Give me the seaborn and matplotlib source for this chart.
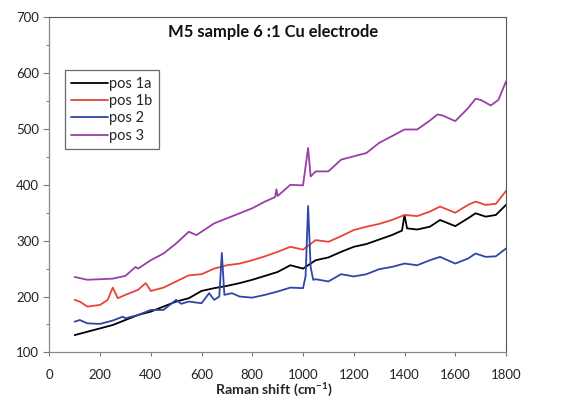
import numpy as np
import pandas as pd
import matplotlib
matplotlib.use("Agg")
import matplotlib.pyplot as plt
from matplotlib.ticker import MultipleLocator
import seaborn as sns

# Raman spectra, M5 sample 6:1 on Cu electrode (shift in cm-1, intensity)
pos1a_x = [100, 150, 200, 250, 300, 350, 400, 450, 500, 550, 600, 650, 700, 750,
           800, 850, 900, 950, 1000, 1050, 1100, 1150, 1200, 1250, 1300, 1350,
           1390, 1400, 1410, 1450, 1500, 1540, 1600, 1650, 1680, 1720, 1760, 1800]
pos1a_y = [131, 137, 143, 149, 158, 167, 173, 182, 191, 197, 210, 215, 219, 224,
           230, 237, 244, 256, 250, 265, 270, 280, 289, 294, 302, 310,
           318, 346, 322, 320, 325, 337, 326, 340, 349, 343, 346, 364]

pos1b_x = [100, 120, 150, 200, 230, 250, 270, 300, 350, 380, 400, 450, 500, 550,
           600, 650, 700, 750, 800, 850, 900, 950, 1000, 1050, 1100, 1150, 1200,
           1250, 1300, 1350, 1400, 1450, 1500, 1540, 1600, 1650, 1680, 1720, 1760, 1800]
pos1b_y = [194, 191, 182, 185, 194, 216, 197, 203, 212, 224, 210, 216, 227, 238,
           240, 250, 256, 259, 265, 272, 280, 289, 284, 301, 298, 308, 319,
           325, 330, 337, 346, 344, 352, 361, 350, 364, 370, 364, 366, 389]

pos2_x = [100, 120, 150, 200, 250, 290, 300, 350, 400, 450, 500, 520, 550, 600,
          630, 650, 670, 680, 690, 720, 750, 800, 850, 900, 950, 1000, 1010, 1020,
          1030, 1040, 1050, 1100, 1150, 1200, 1250, 1300, 1350, 1400, 1450, 1500,
          1540, 1600, 1650, 1680, 1720, 1760, 1800]
pos2_y = [155, 158, 152, 151, 157, 164, 161, 167, 176, 176, 194, 187, 191, 188,
          206, 194, 200, 278, 203, 206, 200, 198, 203, 209, 216, 215, 236, 362,
          253, 230, 231, 227, 240, 236, 240, 249, 253, 259, 256, 265,
          271, 259, 268, 277, 271, 272, 286]

pos3_x = [100, 150, 200, 250, 300, 340, 350, 400, 450, 500, 550, 580, 600, 650,
          700, 750, 800, 850, 890, 895, 900, 950, 1000, 1020, 1030, 1050, 1100,
          1150, 1200, 1250, 1300, 1350, 1400, 1450, 1500, 1530, 1550, 1600, 1650,
          1680, 1700, 1740, 1770, 1800]
pos3_y = [235, 230, 231, 232, 237, 253, 250, 265, 277, 295, 316, 310, 316, 331,
          340, 349, 358, 370, 378, 392, 380, 400, 399, 466, 415, 424, 424,
          445, 451, 457, 475, 487, 499, 499, 515, 526, 524, 514, 537,
          554, 552, 542, 552, 585]

series_names = ["pos 1a", "pos 1b", "pos 2", "pos 3"]
series_colors = ["#000000", "#e8443a", "#2e47a6", "#9a3ea8"]

x_ticks = [0, 200, 400, 600, 800, 1000, 1200, 1400, 1600, 1800]
y_ticks = [100, 200, 300, 400, 500, 600, 700]

frames = []
for name, xs, ys in zip(series_names,
                        [pos1a_x, pos1b_x, pos2_x, pos3_x],
                        [pos1a_y, pos1b_y, pos2_y, pos3_y]):
    frames.append(pd.DataFrame({"shift": xs, "intensity": ys, "series": name}))
df = pd.concat(frames, ignore_index=True)

sns.set_style("ticks")
plt.rcParams["font.family"] = ["Lato", "DejaVu Sans"]

fig = plt.figure(figsize=(5.64, 4.0), dpi=100)
ax = fig.add_axes([0.0874, 0.119, 0.8098, 0.838])

sns.lineplot(data=df, x="shift", y="intensity", hue="series",
             hue_order=series_names, palette=series_colors,
             linewidth=1.3, sort=False, estimator=None, ax=ax)

ax.set_xlim(0, 1800)
ax.set_ylim(100, 700)
ax.set_xticks(x_ticks)
ax.set_yticks(y_ticks)
ax.yaxis.set_minor_locator(MultipleLocator(50))
ax.tick_params(axis="both", which="major", labelsize=9.5, length=4,
               width=0.8, color="#777777", labelcolor="#222222")
ax.tick_params(axis="y", which="minor", length=2.5, width=0.7, color="#777777")
ax.tick_params(axis="x", which="major", length=3, pad=9)

for side in ["left", "bottom"]:
    ax.spines[side].set_color("#888888")
    ax.spines[side].set_linewidth(0.9)
for side in ["top", "right"]:
    ax.spines[side].set_visible(True)
    ax.spines[side].set_color("#555555")
    ax.spines[side].set_linewidth(0.8)

ax.set_ylabel("")
ax.set_xlabel("Raman shift (cm$^{\\mathregular{-1}}$)", fontsize=10.2,
              fontweight="bold")
ax.xaxis.set_label_coords(0.492, -0.136, transform=ax.transAxes)
ax.xaxis.label.set_va("bottom")

ax.text(0.49, 0.957, "M5 sample 6 :1 Cu electrode", transform=ax.transAxes,
        ha="center", va="center", fontsize=11.9, fontweight="bold",
        color="#111111")

leg = ax.legend(loc="upper left", bbox_to_anchor=(0.034, 0.841), fontsize=10.5,
                frameon=True, fancybox=False, handlelength=2.5,
                handletextpad=0.1, borderpad=0.45, labelspacing=0.22,
                borderaxespad=0)
leg.get_frame().set_edgecolor("#444444")
leg.get_frame().set_linewidth(0.9)
for line in leg.get_lines():
    line.set_linewidth(1.3)

fig.savefig("out.png", dpi=100)
